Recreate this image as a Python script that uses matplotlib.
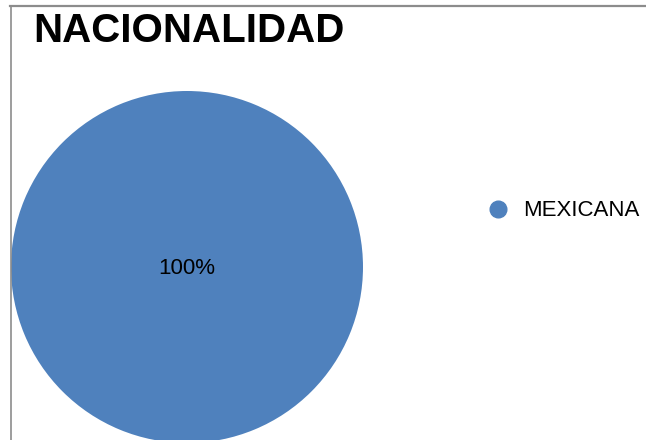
import matplotlib
matplotlib.use('Agg')
import matplotlib.pyplot as plt
from matplotlib.lines import Line2D

# Datos
categorias = ['MEXICANA']
valores = [100]
colores = ['#4F81BD']

W, H = 646, 440
fig = plt.figure(figsize=(W / 100, H / 100), dpi=100, facecolor='white')

# marco del gráfico (solo se ven el borde superior y el izquierdo)
fig.add_artist(Line2D([10 / W, 1], [1 - 6 / H, 1 - 6 / H], color='#8c8c8c', lw=1.6))
fig.add_artist(Line2D([10.5 / W, 10.5 / W], [0, 1 - 6 / H], color='#8c8c8c', lw=1.2))

fig.text(33 / W, 1 - 31 / H, 'NACIONALIDAD', fontsize=29, fontweight='bold',
         family='Liberation Sans', ha='left', va='center', color='black')

# pastel
ax = fig.add_axes([11 / W, (H - 443) / H, 352 / W, 352 / H])
wedges, texts, autotexts = ax.pie(valores, colors=colores, startangle=90,
                                  autopct='%1.0f%%', pctdistance=0.0, radius=1,
                                  textprops=dict(fontsize=16, family='Liberation Sans', color='black'))
for t in autotexts:
    t.set_y(-0.01)
ax.set_xlim(-1, 1)
ax.set_ylim(-1, 1)
ax.set_aspect('equal')
ax.set_axis_off()

# leyenda con marcador circular
handles = [Line2D([], [], marker='o', ls='', color=c, markersize=12) for c in colores]
fig.legend(handles, categorias, loc='center left', bbox_to_anchor=(489 / W, 1 - 211 / H),
           frameon=False, borderpad=0, borderaxespad=0,
           handlelength=0.8, handletextpad=0.72,
           prop=dict(family='Liberation Sans', size=16))

fig.savefig('out.png', dpi=100, facecolor='white')
